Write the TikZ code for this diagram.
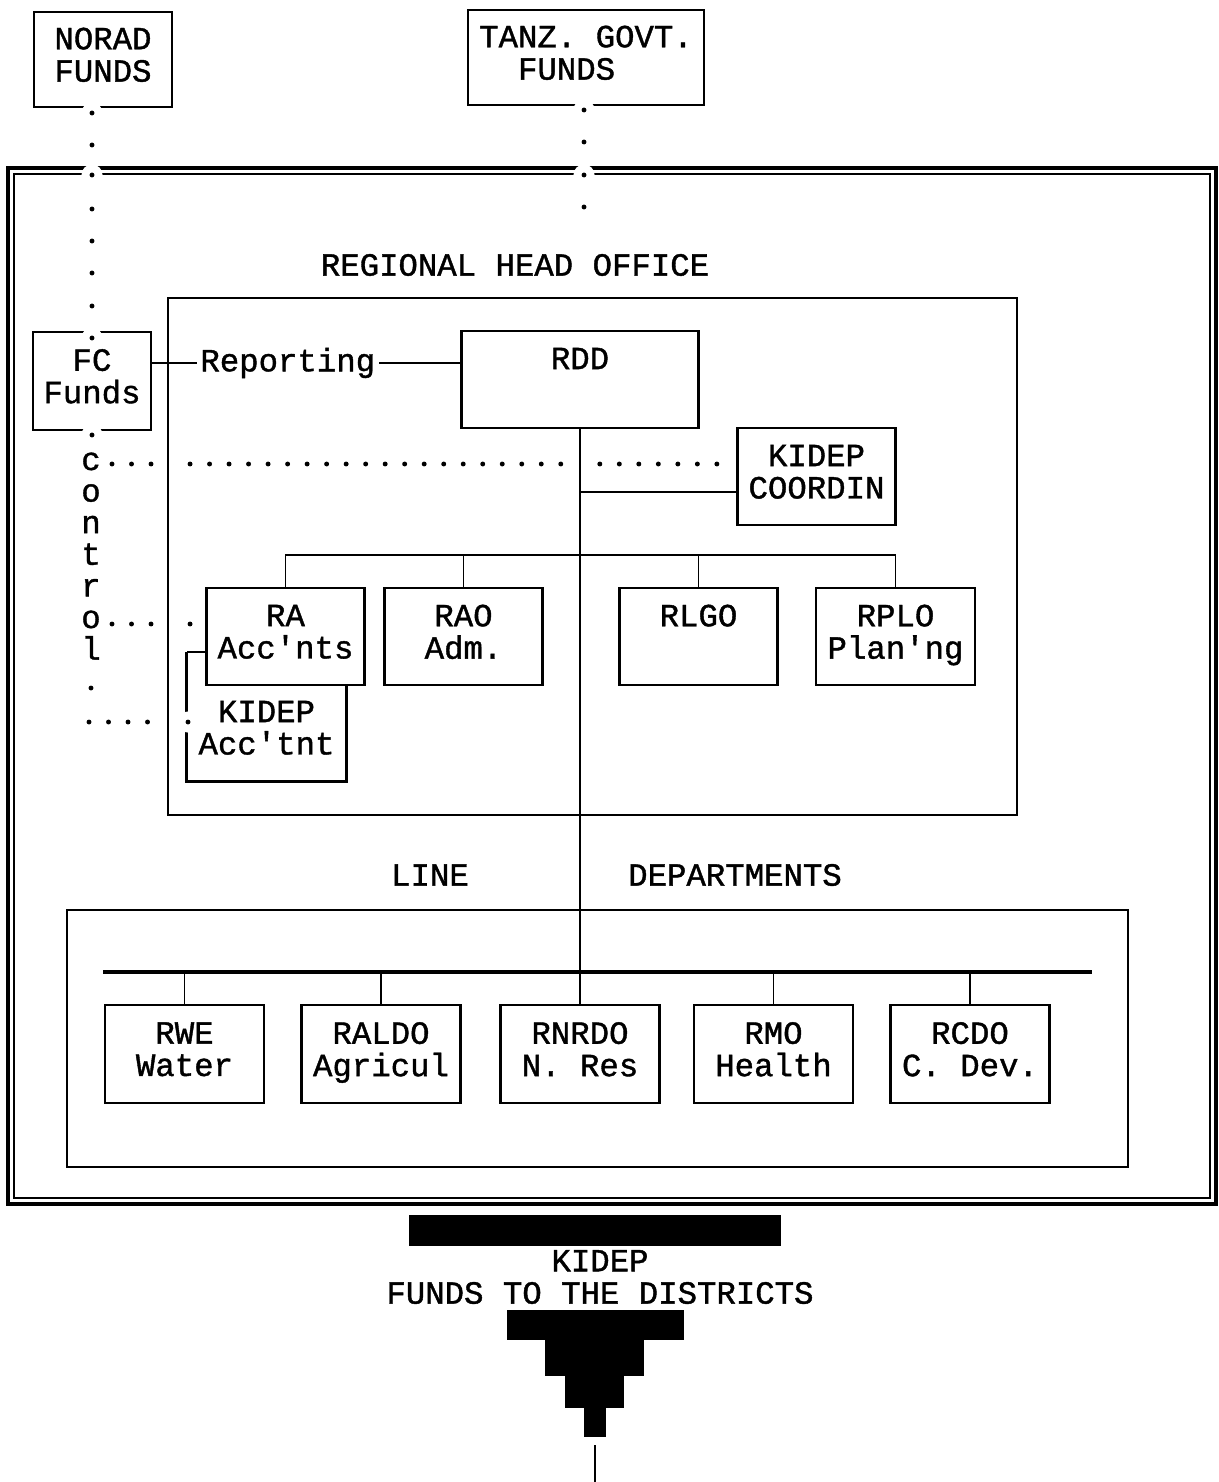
\documentclass[tikz,border=0pt]{standalone}
\usepackage{fontspec}
\setmonofont{Liberation Mono}[FakeBold=1.2]
\usetikzlibrary{positioning,backgrounds}

\begin{document}
\begin{tikzpicture}[
    x=0.01cm, y=-0.01cm,
    txt/.style={
        font=\ttfamily\fontsize{9.2pt}{9.2pt}\selectfont,
        inner sep=0pt, align=center
    },
    unit/.style={
        txt, draw=black, line width=0.8pt,
        minimum width=1.58cm, minimum height=0.97cm,
        execute at begin node=\strut, execute at end node=\strut
    },
    frame/.style={
        draw=black, line width=0.6pt, inner sep=0pt
    },
    link/.style={
        draw=black, line width=0.5pt
    },
    dotrow/.style={
        line width=1.4pt, line cap=round, dash pattern=on 0pt off 0.195cm
    }
]
\useasboundingbox (0,0) rectangle (1219,1482);

% Sources of funds
\node[unit, minimum width=1.38cm, minimum height=0.95cm] (norad) at (103,59.5) {NORAD\\FUNDS};
\node[unit, minimum width=2.36cm, minimum height=0.95cm, align=left] (tanz) at (586,57.5) {TANZ. GOVT.\\~~FUNDS};

% Region frame (double line)
\draw[line width=1.2pt] (8,168) rectangle (1216,1204);
\draw[line width=0.5pt] (14,174) rectangle (1210,1198);

% Regional head office
\node[txt] (hqlabel) at (515,265) {REGIONAL HEAD OFFICE};
\node[frame, minimum width=8.49cm, minimum height=5.17cm] (hq) at (592.5,556.5) {};

\node[unit, minimum width=1.18cm, minimum height=0.98cm] (fc) at (92,381) {FC\\Funds};
\node[unit, minimum width=2.37cm] (rdd) at (580,379.5) {RDD\\\mbox{}};
\node[unit] (kcoord) at (816.5,476.5) {KIDEP\\COORDIN};

\node[unit] (ra) at (285.5,636.5) {RA\\Acc'nts};
\node[unit] (rao) at (463.5,636.5) {RAO\\Adm.};
\node[unit] (rlgo) at (698.5,636.5) {RLGO\\\mbox{}};
\node[unit, minimum width=1.59cm] (rplo) at (895.5,636.5) {RPLO\\Plan'ng};
\node[unit, draw=none, minimum width=1.57cm, minimum height=0.95cm] (kacc) at (266.5,732.5) {KIDEP\\Acc'tnt};

% Line departments
\node[txt] (linelbl) at (430,875) {LINE};
\node[txt] (deptlbl) at (735,875) {DEPARTMENTS};
\node[frame, minimum width=10.61cm, minimum height=2.57cm] (ld) at (597.5,1038.5) {};

\node[unit, minimum width=1.59cm, minimum height=0.98cm] (rwe) at (184.5,1054) {RWE\\Water};
\node[unit, minimum width=1.59cm, minimum height=0.98cm] (raldo) at (381,1054) {RALDO\\Agricul};
\node[unit, minimum width=1.59cm, minimum height=0.98cm] (rnrdo) at (580,1054) {RNRDO\\N. Res};
\node[unit, minimum width=1.59cm, minimum height=0.98cm] (rmo) at (773.5,1054) {RMO\\Health};
\node[unit, minimum width=1.59cm, minimum height=0.98cm] (rcdo) at (970,1054) {RCDO\\C. Dev.};

% Lines of command
\draw[link] ([yshift=0.18cm]fc.east) -- node[txt, fill=white, inner sep=1pt, pos=0.44] (rep) {Reporting} ([yshift=0.18cm]fc.east -| rdd.west);
\draw[link] (rdd.south) -- (rnrdo.north);
\draw[link] ([yshift=-0.155cm]kcoord.west) -- ([yshift=-0.155cm]kcoord.west -| rdd.south);

\coordinate (hqbus) at (580,555);
\draw[link] (ra.north) |- (rplo.north |- hqbus) -- (rplo.north);
\foreach \n in {rao,rlgo}
    \draw[link] (\n.north) -- (\n.north |- hqbus);

\draw[link] ([yshift=-0.155cm]ra.west) -- ([yshift=-0.155cm]ra.west -| kacc.west);
\draw[line width=0.8pt] ([yshift=-0.155cm]ra.west -| kacc.west) -- (kacc.south west) -- (kacc.south east) -- (kacc.north east);

\coordinate (busl) at (103,972);
\coordinate (busr) at (1092,972);
\draw[line width=1.1pt] (busl) -- (busr);
\foreach \n in {rwe,raldo,rmo,rcdo}
    \draw[link] (\n.north) -- (\n.north |- busl);

% Control (typed dots)
\foreach \ch [count=\i] in {c,o,n,t,r,o,l}
    \node[txt, anchor=base] (ctrl\i) at (91,{470+31.6*(\i-1)}) {\ch};

\coordinate (crow) at (112,464);
\coordinate (orow) at (112,624);
\coordinate (lrow) at (89,722);
\begin{scope}[on background layer]
    \draw[dotrow] (crow) -- (crow -| kcoord.west);
    \draw[dotrow] (orow) -- (orow -| ra.west);
    \draw[dotrow] (lrow) -- (lrow -| kacc.west);
    \fill (91,688) circle (0.7pt);
    % lines pass over these dots
    \fill[white] (crow -| hq.west) circle (2pt) (crow -| rdd.south) circle (2pt)
        (orow -| hq.west) circle (2pt) (lrow -| hq.west) circle (2pt);
\end{scope}

% Dots that break the lines they cross
\foreach \x/\y in {92/113,92/145,92/175,92/209,92/241,92/273,92/306,92/338,92/435,
                   584/110,584/142,584/175,584/207,188/722}
    {\fill[white] (\x,\y) circle (3pt); \fill (\x,\y) circle (0.7pt);}

% Funds to the districts
\fill (409,1215) rectangle (781,1246);
\node[txt] (kfunds) at (600,1277) {KIDEP\\FUNDS TO THE DISTRICTS};
\fill (507,1310) rectangle (684,1340);
\fill (545,1340) rectangle (644,1376);
\fill (565,1376) rectangle (624,1408);
\fill (584,1408) rectangle (606,1437);
\draw[link] (595,1445) -- (595,1482);

\end{tikzpicture}
\end{document}
